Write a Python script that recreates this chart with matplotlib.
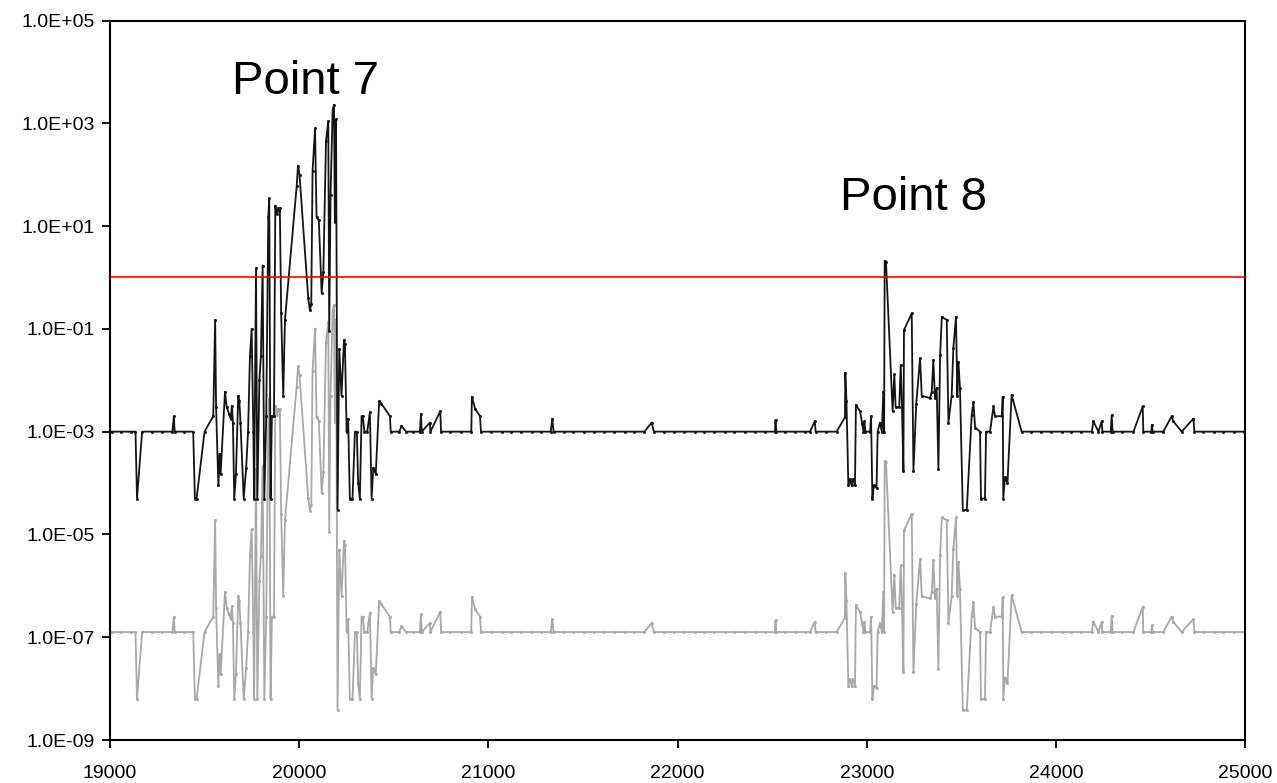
import matplotlib
matplotlib.use("Agg")
import matplotlib.pyplot as plt
from matplotlib.ticker import FixedLocator, FuncFormatter, NullLocator

plt.rcParams['font.family'] = ['Liberation Sans', 'DejaVu Sans']

# upper (black) trace
x_vals = [
    19010, 19060, 19110, 19135, 19143, 19170, 19220, 19275, 19330, 19338, 19342,
    19390, 19440, 19449, 19458, 19500, 19546, 19556, 19561, 19573, 19580, 19585,
    19608, 19617, 19630, 19638, 19645, 19650, 19657, 19666, 19678, 19684, 19690,
    19707, 19720, 19730, 19740, 19749, 19758, 19762, 19772, 19779, 19790, 19798,
    19807, 19816, 19826, 19837, 19842, 19849, 19856, 19867, 19874, 19881, 19888,
    19894, 19898, 19905, 19916, 19925, 19987, 19994, 20002, 20048, 20057, 20064,
    20071, 20084, 20092, 20104, 20119, 20128, 20142, 20154, 20159, 20166, 20177,
    20184, 20189, 20195, 20203, 20212, 20224, 20237, 20242, 20251, 20259, 20268,
    20282, 20295, 20305, 20312, 20321, 20330, 20336, 20345, 20360, 20374, 20383,
    20392, 20405, 20423, 20435, 20480, 20484, 20530, 20541, 20565, 20600, 20638,
    20644, 20648, 20691, 20694, 20746, 20750, 20800, 20855, 20910, 20913, 20930,
    20956, 20961, 21015, 21070, 21120, 21175, 21230, 21280, 21330, 21338, 21345,
    21400, 21450, 21505, 21560, 21610, 21665, 21720, 21770, 21825, 21863, 21875,
    21930, 21980, 22035, 22090, 22140, 22195, 22250, 22300, 22355, 22410, 22460,
    22515, 22518, 22522, 22570, 22620, 22675, 22700, 22726, 22730, 22785, 22841,
    22885, 22887, 22893, 22903, 22912, 22920, 22928, 22938, 22943, 22965, 22975,
    22983, 22988, 22993, 23018, 23023, 23030, 23038, 23052, 23058, 23070, 23080,
    23088, 23092, 23095, 23102, 23137, 23146, 23153, 23172, 23180, 23186, 23194,
    23197, 23238, 23247, 23262, 23282, 23291, 23335, 23344, 23352, 23361, 23370,
    23379, 23388, 23397, 23423, 23432, 23449, 23458, 23472, 23479, 23485, 23493,
    23508, 23529, 23555, 23564, 23573, 23599, 23604, 23625, 23631, 23652, 23670,
    23678, 23714, 23719, 23722, 23731, 23744, 23766, 23819, 23870, 23920, 23975,
    24030, 24080, 24135, 24190, 24198, 24225, 24242, 24246, 24290, 24295, 24300,
    24350, 24410, 24459, 24462, 24505, 24507, 24512, 24568, 24612, 24620, 24665,
    24727, 24732, 24780, 24835, 24885, 24940, 24995,
]
y_vals = [
    1e-3, 1e-3, 1e-3, 1e-3, 5e-5, 1e-3, 1e-3, 1e-3, 1e-3, 2e-3, 1e-3,
    1e-3, 1e-3, 5e-5, 5e-5, 1e-3, 2e-3, 1.5e-1, 3e-3, 9e-5, 3.7e-4, 1.5e-4,
    6e-3, 3e-3, 2.2e-3, 1.8e-3, 3.2e-3, 1.5e-3, 5e-5, 1.5e-4, 5e-3, 4e-3, 1.5e-3,
    5e-5, 2e-4, 1e-3, 3e-2, 1e-1, 1e-3, 5e-5, 1.5, 5e-5, 1e-2, 3e-2,
    1.7, 5e-5, 2e-3, 15, 35, 5e-5, 2e-3, 2e-3, 25, 17, 22,
    20, 22, 2e-1, 5e-3, 1.5e-1, 60, 150, 100, 4e-1, 2.3e-1, 3e-1,
    120, 800, 15, 13, 5e-1, 1.3, 450, 1100, 9e-2, 40, 1800,
    2300, 12, 1200, 3e-5, 4e-2, 5e-3, 6e-2, 5e-2, 1e-3, 1.8e-3, 5e-5,
    5e-5, 1e-3, 1e-3, 1e-4, 5e-5, 2e-3, 2e-3, 1e-3, 1e-3, 2.4e-3, 5e-5,
    2e-4, 1.5e-4, 4e-3, 3.5e-3, 2e-3, 1e-3, 1e-3, 1.3e-3, 1e-3, 1e-3, 1e-3,
    2.2e-3, 1e-3, 1.5e-3, 1e-3, 2.5e-3, 1e-3, 1e-3, 1e-3, 1e-3, 4.8e-3, 2.8e-3,
    2e-3, 1e-3, 1e-3, 1e-3, 1e-3, 1e-3, 1e-3, 1e-3, 1e-3, 1.8e-3, 1e-3,
    1e-3, 1e-3, 1e-3, 1e-3, 1e-3, 1e-3, 1e-3, 1e-3, 1e-3, 1.5e-3, 1e-3,
    1e-3, 1e-3, 1e-3, 1e-3, 1e-3, 1e-3, 1e-3, 1e-3, 1e-3, 1e-3, 1e-3,
    1e-3, 1.7e-3, 1e-3, 1e-3, 1e-3, 1e-3, 1e-3, 1.6e-3, 1e-3, 1e-3, 1e-3,
    1.9e-3, 1.4e-2, 4e-3, 9e-5, 1.2e-4, 9e-5, 1.2e-4, 9e-5, 3.3e-3, 2.5e-3, 1.5e-3,
    1e-3, 1.6e-3, 1e-3, 1e-3, 2e-3, 5e-5, 9e-5, 8e-5, 1e-3, 1.5e-3, 1e-3,
    6e-3, 1e-3, 2.1, 2.0, 2.5e-3, 1.3e-2, 3e-3, 3e-3, 2e-2, 3.5e-3, 1.7e-4,
    9.5e-2, 2e-1, 1.7e-4, 3.5e-3, 2.7e-2, 5e-3, 4.5e-3, 6e-3, 2.5e-2, 4.5e-3, 7e-3,
    1.9e-4, 3.1e-2, 1.7e-1, 1.5e-1, 1.5e-3, 5e-3, 4.2e-2, 1.7e-1, 5e-3, 2.3e-2, 7e-3,
    3e-5, 3e-5, 2.1e-3, 3.8e-3, 1.2e-3, 1e-3, 5e-5, 5e-5, 1e-3, 1e-3, 3.1e-3,
    2e-3, 2e-3, 4.8e-3, 5e-5, 1.3e-4, 1e-4, 5.2e-3, 1e-3, 1e-3, 1e-3, 1e-3,
    1e-3, 1e-3, 1e-3, 1e-3, 1.6e-3, 1e-3, 1.6e-3, 1e-3, 1e-3, 2.1e-3, 1e-3,
    1e-3, 1e-3, 3.1e-3, 1e-3, 1e-3, 1.35e-3, 1e-3, 1e-3, 2e-3, 1.6e-3, 1e-3,
    1.8e-3, 1e-3, 1e-3, 1e-3, 1e-3, 1e-3, 1e-3,
]
# the grey trace is the same curve sitting ~3.9 decades lower
gray_factor = 1.26e-4
gray_vals = [v * gray_factor for v in y_vals]

threshold = 1.0
y_ticks = [1e-9, 1e-7, 1e-5, 1e-3, 1e-1, 1e1, 1e3, 1e5]
x_ticks = [19000, 20000, 21000, 22000, 23000, 24000, 25000]

fig = plt.figure(figsize=(12.77, 7.83), dpi=100)
ax = fig.add_axes([0.0861, 0.0549, 0.8889, 0.9189])

ax.plot(x_vals, gray_vals, color='#a8a8a8', lw=1.3, marker='s', ms=1.0, zorder=2)
ax.plot(x_vals, y_vals, color='#141414', lw=1.3, marker='s', ms=1.0, zorder=3)
ax.axhline(threshold, color='#ff0000', lw=1.2, zorder=4)

ax.text(20036, 6300, "Point 7", fontsize=34, ha='center', va='center')
ax.text(23250, 35, "Point 8", fontsize=34, ha='center', va='center')

ax.set_yscale('log')
ax.set_xlim(19000, 25000)
ax.set_ylim(1e-9, 1e5)
ax.yaxis.set_major_locator(FixedLocator(y_ticks))
ax.yaxis.set_minor_locator(NullLocator())
ax.yaxis.set_major_formatter(FuncFormatter(lambda v, p: "%.1E" % v))
ax.set_xticks(x_ticks)
ax.tick_params(labelsize=14, length=6, width=1.3, direction='out')
ax.tick_params(axis='y', pad=5)
ax.tick_params(axis='x', pad=12)

for s in ax.spines.values():
    s.set_linewidth(1.5)

plt.savefig("out.png", dpi=100)
